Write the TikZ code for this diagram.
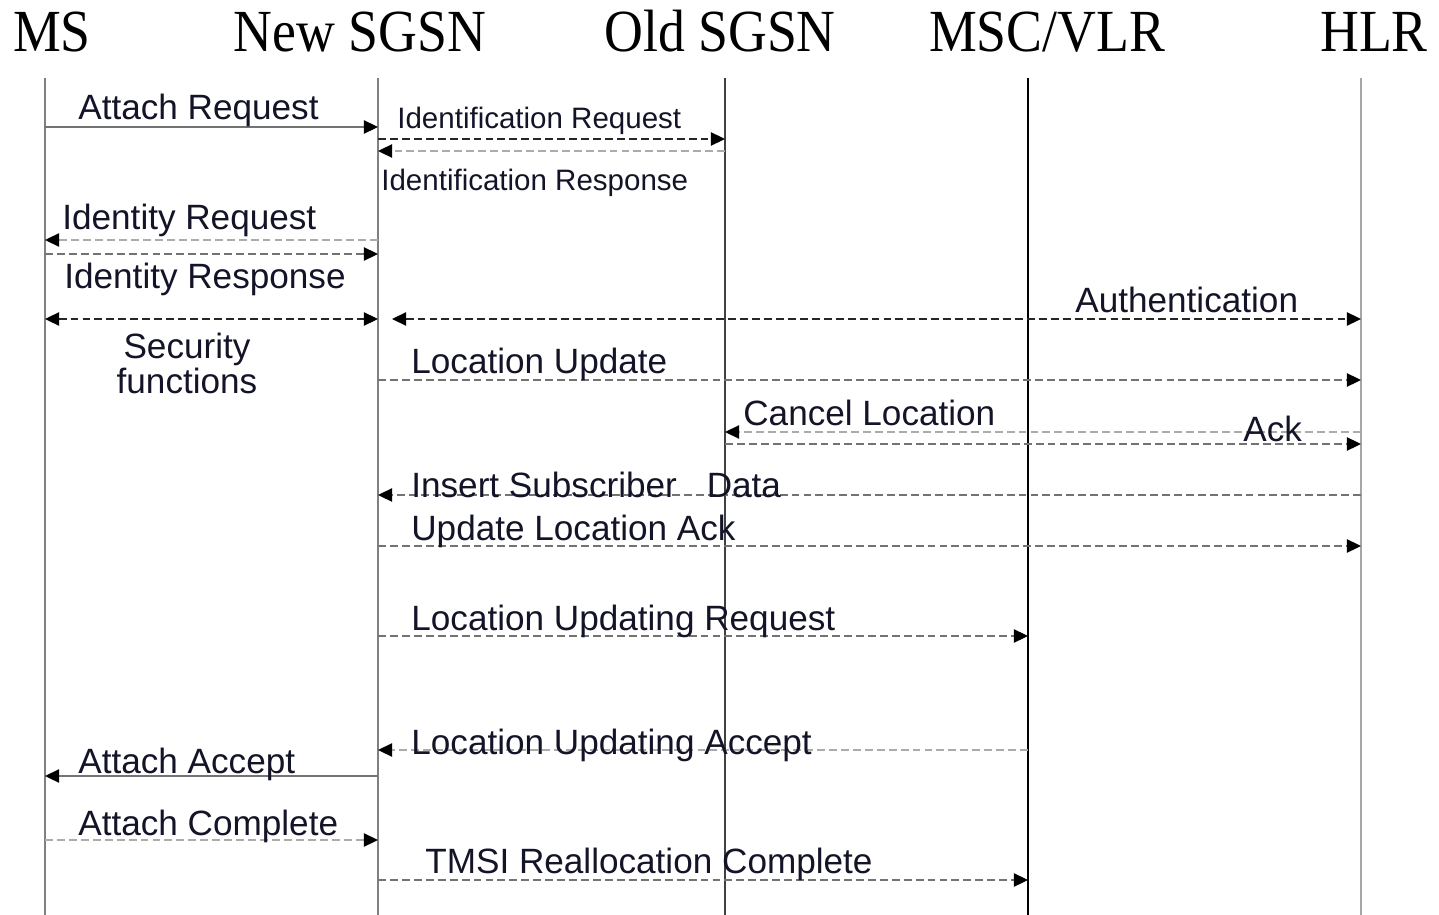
\documentclass[tikz,border=0pt]{standalone}
\usepackage{fontspec}
\setmainfont{Liberation Sans}
\newfontfamily\hdrfont[FakeStretch=0.9]{Liberation Serif}
\usetikzlibrary{arrows.meta}
\definecolor{txt}{RGB}{20,20,40}
\begin{document}
\begin{tikzpicture}[x=0.02cm,y=-0.02cm,
 hdr/.style={anchor=base,inner sep=0,font=\hdrfont\fontsize{34}{34}\selectfont},
 lbl/.style={anchor=base west,inner sep=0,text=txt,font=\fontsize{20}{24}\selectfont},
 slbl/.style={anchor=base west,inner sep=0,text=txt,font=\fontsize{16.8}{20}\selectfont},
 life/.style={line width=1.3pt},
 tipR/.style={-{Triangle[length=8pt,width=7.5pt,color=black]}},
 tipB/.style={{Triangle[length=8pt,width=7.5pt,color=black]}-{Triangle[length=8pt,width=7.5pt,color=black]}},
 msg/.style={line width=1pt},
 dsh/.style={dash pattern=on 4.5pt off 2.3pt},
 dark/.style={draw=black!85},
 mid/.style={draw=black!55},
 lite/.style={draw=black!33},
]
\useasboundingbox (0,0) rectangle (1439,915);

% headers
\node[hdr] (hMS) at (52,52) {MS};
\node[hdr] (hNS) at (360,52) {New SGSN};
\node[hdr] (hOS) at (720,52) {Old SGSN};
\node[hdr] (hMV) at (1047,52) {MSC/VLR};
\node[hdr] (hHL) at (1374,52) {HLR};

% lifelines
\coordinate (ms) at (45,78);
\coordinate (ns) at (378,78);
\coordinate (os) at (725,78);
\coordinate (mv) at (1028,78);
\coordinate (hl) at (1361,78);
\coordinate (authL) at (392,319);
\draw[life,draw=black!50] (ms) -- (ms |- 0,915);
\draw[life,draw=black!50] (ns) -- (ns |- 0,915);
\draw[life,draw=black!75] (os) -- (os |- 0,915);
\draw[life,draw=black] (mv) -- (mv |- 0,915);
\draw[life,draw=black!35,line width=1.6pt] (hl) -- (hl |- 0,915);

% messages
\draw[msg,tipR,mid] (ms |- 0,127) -- (ns |- 0,127);
\draw[msg,tipR,dsh,dark] (ns |- 0,139) -- (os |- 0,139);
\draw[msg,tipR,dsh,lite] (os |- 0,151) -- (ns |- 0,151);
\draw[msg,tipR,dsh,lite] (ns |- 0,240) -- (ms |- 0,240);
\draw[msg,tipR,dsh,mid] (ms |- 0,254) -- (ns |- 0,254);
\draw[msg,tipB,dsh,dark] (ms |- 0,319) -- (ns |- 0,319);
\draw[msg,tipB,dsh,dark] (authL) -- (hl |- authL);
\draw[msg,tipR,dsh,mid] (ns |- 0,380) -- (hl |- 0,380);
\draw[msg,tipR,dsh,lite] (hl |- 0,432) -- (os |- 0,432);
\draw[msg,tipR,dsh,mid] (os |- 0,444) -- (hl |- 0,444);
\draw[msg,tipR,dsh,mid] (hl |- 0,495) -- (ns |- 0,495);
\draw[msg,tipR,dsh,mid] (ns |- 0,546) -- (hl |- 0,546);
\draw[msg,tipR,dsh,mid] (ns |- 0,636) -- (mv |- 0,636);
\draw[msg,tipR,dsh,lite] (mv |- 0,750) -- (ns |- 0,750);
\draw[msg,tipR,mid] (ns |- 0,776) -- (ms |- 0,776);
\draw[msg,tipR,dsh,lite] (ms |- 0,840) -- (ns |- 0,840);
\draw[msg,tipR,dsh,mid] (ns |- 0,880) -- (mv |- 0,880);

% labels
\node[lbl] (l1) at (78,120) {Attach Request};
\node[slbl] (l2) at (397,129) {Identification Request};
\node[slbl] (l3) at (381,191) {Identification Response};
\node[lbl] (l4) at (62,230) {Identity Request};
\node[lbl] (l5) at (64,289) {Identity Response};
\node[anchor=base,inner sep=0,text=txt,font=\fontsize{20}{24}\selectfont] (l6a) at (187,358) {Security};
\node[anchor=base,inner sep=0,text=txt,font=\fontsize{20}{24}\selectfont] (l6b) at (187,393) {functions};
\node[lbl] (l7) at (1075,313) {Authentication};
\node[lbl] (l8) at (411,373) {Location Update};
\node[lbl] (l9) at (743,425) {Cancel Location};
\node[lbl] (l10) at (1243,441) {Ack};
\node[lbl] (l11) at (411,497) {Insert Subscriber\hspace{17pt}Data};
\node[lbl] (l12) at (411,540) {Update Location Ack};
\node[lbl] (l13) at (411,630) {Location Updating Request};
\node[lbl] (l14) at (411,754) {Location Updating Accept};
\node[lbl] (l15) at (78,773) {Attach Accept};
\node[lbl] (l16) at (78,835) {Attach Complete};
\node[lbl] (l17) at (425,873) {TMSI Reallocation Complete};
\end{tikzpicture}
\end{document}
